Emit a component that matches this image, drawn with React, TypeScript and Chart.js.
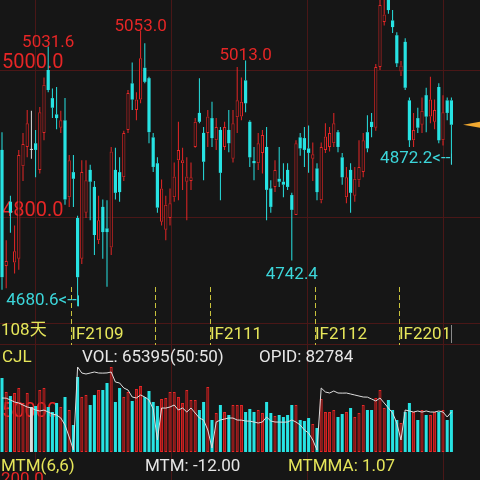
import React, { useEffect, useRef } from 'react';
import { Chart, registerables } from 'chart.js';

Chart.register(...registerables);

const FONT = 'Roboto, "Noto Sans CJK SC", sans-serif';
const BG = '#161616';
const RED = '#e62626';
const CYAN = '#27e3e3';
const CYAN_TEXT = '#3cd6da';
const YELLOW = '#e6e65a';
const ROLL_YELLOW = '#c8c23c';
const GRID = '#4a1717';
const WHITE = '#e6e6e6';
const ORANGE = '#f0a830';
const VOL_RED_FILL = '#981a1a';

// Daily OHLC of the continuous IF contract
const opens = [
  4892, 4735, 4822, 4740, 4745, 4870, 4896, 4892, 4901, 4865,
  4915, 5000, 4962, 4940, 4922, 4932, 4828, 4862, 4800, 4745,
  4807, 4865, 4842, 4770, 4815, 4786, 4760, 4865, 4862, 4855,
  4919, 4982, 4946, 4960, 5003, 4989, 4909, 4874, 4795, 4784,
  4800, 4828, 4878, 4874, 4849, 4850, 4896, 4942, 4915, 4915,
  4935, 4905, 4919, 4896, 4919, 4880, 4936, 4937, 4986, 4930,
  4877, 4874, 4888, 4896, 4840, 4842, 4853, 4849, 4865, 4831,
  4804, 4909, 4908, 4894, 4880, 4867, 4824, 4892, 4896, 4901,
  4916, 4882, 4828, 4865, 4830, 4851, 4862, 4916, 4930, 4922,
  5004, 5065, 5100, 5067, 5047, 4998, 5038, 4959, 4905, 4935,
  4926, 4966, 4937, 4930, 4977, 4905, 4959, 4959,
];
const highs = [
  4916, 4770, 4830, 4790, 4892, 4915, 4946, 4945, 4919, 4950,
  4990, 5031.6, 4975, 4977, 4945, 4962, 4885, 4885, 4803, 4878,
  4878, 4872, 4850, 4830, 4825, 4824, 4896, 4895, 4882, 4918,
  4973, 5010, 4970, 5053.0, 5036, 4991, 4915, 4882, 4852, 4830,
  4840, 4875, 4930, 4895, 4882, 4875, 4935, 4989, 4923, 4946,
  4957, 4935, 4923, 4930, 4946, 4946, 5004, 4990, 5013.0, 4932,
  4896, 4915, 4919, 4923, 4851, 4878, 4896, 4874, 4874, 4834,
  4905, 4915, 4923, 4925, 4902, 4874, 4902, 4928, 4923, 4942,
  4919, 4888, 4869, 4874, 4869, 4905, 4915, 4939, 4942, 5008,
  5100, 5100, 5110, 5081, 5051, 5012, 5043, 4963, 4942, 4949,
  4963, 4976, 4991, 4960, 4982, 4966, 4963, 4963,
];
const lows = [
  4703, 4705, 4780, 4725, 4730, 4850, 4882, 4880, 4855, 4860,
  4905, 4970, 4935, 4920, 4915, 4818, 4815, 4815, 4680.6, 4738,
  4800, 4797, 4750, 4765, 4745, 4707, 4750, 4825, 4822, 4850,
  4915, 4946, 4932, 4955, 4982, 4901, 4862, 4807, 4790, 4770,
  4790, 4822, 4824, 4838, 4797, 4838, 4895, 4928, 4851, 4896,
  4896, 4892, 4824, 4892, 4889, 4875, 4915, 4932, 4943, 4869,
  4851, 4865, 4860, 4797, 4807, 4835, 4842, 4828, 4838, 4742.4,
  4804, 4884, 4869, 4861, 4850, 4824, 4820, 4888, 4890, 4896,
  4889, 4845, 4820, 4807, 4822, 4842, 4855, 4889, 4909, 4918,
  5000, 5060, 5076, 5050, 5004, 4992, 4973, 4896, 4896, 4915,
  4915, 4916, 4928, 4920, 4901, 4898, 4932, 4872.2,
];
const closes = [
  4720, 4742, 4807, 4755, 4885, 4900, 4928, 4892, 4892, 4943,
  4980, 4973, 4949, 4935, 4932, 4825, 4878, 4853, 4720, 4862,
  4851, 4849, 4777, 4797, 4781, 4781, 4890, 4834, 4835, 4915,
  4969, 4960, 4960, 5016, 4984, 4916, 4869, 4814, 4840, 4818,
  4820, 4856, 4892, 4878, 4856, 4855, 4930, 4930, 4876, 4937,
  4908, 4923, 4861, 4923, 4901, 4928, 4959, 4957, 4955, 4882,
  4874, 4901, 4912, 4838, 4815, 4865, 4849, 4845, 4842, 4811,
  4901, 4894, 4892, 4888, 4886, 4835, 4896, 4910, 4915, 4928,
  4896, 4855, 4855, 4834, 4853, 4869, 4905, 4894, 4923, 5004,
  5088, 5075, 5081, 5058, 5009, 5006, 4976, 4905, 4919, 4922,
  4945, 4937, 4960, 4946, 4905, 4943, 4942, 4926,
];

// Daily traded volume (lots) and open interest
const volumes = [
  115200, 93400, 87200, 91900, 99600, 76300, 91900, 70100, 71600, 96500,
  99600, 70100, 62300, 76300, 70100, 85600, 65400, 42000, 116800, 85600,
  88700, 73200, 88700, 96500, 96500, 107400, 132300, 77900, 99600, 85600,
  93400, 79400, 98100, 102800, 85600, 95000, 77900, 71600, 82500, 84100,
  93400, 93400, 85600, 76300, 96500, 81000, 81000, 65400, 77900, 101200,
  49800, 60700, 73200, 62300, 57600, 73200, 73200, 73200, 62300, 67000,
  62300, 65400, 60700, 77900, 60700, 56100, 57600, 54500, 57600, 73200,
  73200, 49800, 48300, 52900, 43600, 37400, 82500, 62300, 62300, 65400,
  54500, 59200, 62300, 68500, 54500, 60700, 73200, 65400, 65400, 84100,
  96500, 68500, 81000, 65400, 49800, 45200, 62300, 76300, 62300, 49800,
  65400, 57600, 57600, 62300, 62300, 65400, 49800, 65395,
];
const openInterest = [
  97780, 97600, 95640, 93500, 92430, 90290, 88150, 87080, 84940, 83870,
  84900, 82800, 80660, 79590, 76380, 68890, 56050, 42140, 130950, 124530,
  123460, 124500, 125600, 124530, 124400, 124600, 125600, 114900, 113830, 108480,
  106340, 98850, 97780, 100990, 98850, 95640, 86000, 52840, 87080, 87000,
  88150, 90290, 84940, 87080, 82800, 87080, 81730, 76380, 74240, 63540,
  44280, 72100, 74240, 75310, 76380, 76300, 74240, 74100, 73170, 73000,
  72100, 71030, 72100, 77450, 73170, 72100, 72000, 71900, 72100, 74240,
  72100, 68890, 63540, 60330, 52840, 42140, 108480, 104200, 103130, 105270,
  103130, 103000, 103100, 102060, 100990, 99920, 98850, 98700, 96710, 94570,
  97780, 92430, 87080, 81730, 71030, 52840, 84940, 83870, 82800, 83870,
  82700, 83900, 82800, 82750, 83870, 82800, 77450, 82784,
];

// Contract roll points (between sessions) and their contract codes
const rollPoints = [16.5, 36.5, 49.5, 74.5, 94.5];
const rollLabels = ['IF2109', '', 'IF2111', 'IF2112', 'IF2201'];
const priceTicks = [4800, 5000];
const volumeTicks = [50000];
const gridColumns = [7.86, 40.24, 72.62, 105];
const highMarks = [11, 33, 58];
const lowMarks = [69];
const arrowMarks = [18, 107];
const volumeRatio = '50:50';
const mtmValue = -12.0;
const mtmMaValue = 1.07;
const mtmAxisLabel = '200.0';

const X_MIN = -0.476;
const X_MAX = 113.81;
const PRICE_MIN = 4658.1;
const PRICE_MAX = 5094.6;
const VOL_MAX = 135459;
const OI_MIN = 40000;
const OI_MAX = 133090;

const idx = closes.map((_, i) => i);
const isUp = (i: number) => closes[i] > opens[i];
const candleColor = (i: number) =>
  closes[i] > opens[i] ? RED : closes[i] < opens[i] ? CYAN : '#dcdcdc';

const zeroPad = (s: any) => {
  s.paddingTop = 0;
  s.paddingBottom = 0;
  s.paddingLeft = 0;
  s.paddingRight = 0;
};

const priceDecor = {
  id: 'priceDecor',
  beforeDatasetsDraw(chart: any) {
    const { ctx, chartArea } = chart;
    const x = chart.scales.x;
    ctx.save();
    ctx.strokeStyle = GRID;
    ctx.lineWidth = 1;
    for (const v of gridColumns) {
      const px = Math.round(x.getPixelForValue(v)) + 0.5;
      ctx.beginPath();
      ctx.moveTo(px, 0);
      ctx.lineTo(px, chart.height);
      ctx.stroke();
    }
    for (const py of [Math.round(chartArea.bottom) + 0.5, chart.height - 0.5]) {
      ctx.beginPath();
      ctx.moveTo(0, py);
      ctx.lineTo(chart.width, py);
      ctx.stroke();
    }
    ctx.restore();
  },
  afterDatasetsDraw(chart: any) {
    const { ctx, chartArea } = chart;
    const x = chart.scales.x;
    const y = chart.scales.y;
    ctx.save();

    // contract roll markers
    ctx.strokeStyle = ROLL_YELLOW;
    ctx.lineWidth = 1;
    ctx.setLineDash([5, 3]);
    for (const v of rollPoints) {
      const px = Math.round(x.getPixelForValue(v)) + 0.5;
      ctx.beginPath();
      ctx.moveTo(px, chartArea.bottom - 36);
      ctx.lineTo(px, chart.height);
      ctx.stroke();
    }
    ctx.setLineDash([]);

    ctx.font = `17px ${FONT}`;
    ctx.fillStyle = RED;
    ctx.textAlign = 'center';
    ctx.textBaseline = 'alphabetic';
    for (const i of highMarks) {
      ctx.fillText(highs[i].toFixed(1), x.getPixelForValue(i), y.getPixelForValue(highs[i]));
    }
    ctx.fillStyle = CYAN_TEXT;
    for (const i of lowMarks) {
      ctx.fillText(lows[i].toFixed(1), x.getPixelForValue(i), y.getPixelForValue(lows[i]) + 18);
    }

    // lowest-point pointers
    ctx.textAlign = 'right';
    ctx.textBaseline = 'middle';
    ctx.strokeStyle = CYAN_TEXT;
    for (const i of arrowMarks) {
      const px = x.getPixelForValue(i);
      const py = y.getPixelForValue(lows[i]) - 6;
      ctx.fillText(`${lows[i].toFixed(1)}<--`, px - 1, py);
      const lx = Math.round(px) + 0.5;
      ctx.beginPath();
      ctx.moveTo(lx, py - 5);
      ctx.lineTo(lx, py + 6);
      ctx.stroke();
    }

    // last price pointer
    const last = closes.length - 1;
    const cy = y.getPixelForValue(closes[last]);
    ctx.fillStyle = ORANGE;
    ctx.beginPath();
    ctx.moveTo(chart.width - 17, cy);
    ctx.lineTo(chart.width, cy - 3);
    ctx.lineTo(chart.width, cy + 3);
    ctx.closePath();
    ctx.fill();

    // end-of-series tick in the label strip
    const ex = Math.round(x.getPixelForValue(last)) + 0.5;
    ctx.strokeStyle = '#8a8a8a';
    ctx.beginPath();
    ctx.moveTo(ex, chartArea.bottom + 2);
    ctx.lineTo(ex, chart.height - 2);
    ctx.stroke();

    // session count
    ctx.fillStyle = YELLOW;
    ctx.textAlign = 'left';
    ctx.fillText(`${closes.length}天`, 1, chartArea.bottom + 8);
    ctx.restore();
  },
};

const volumeDecor = {
  id: 'volumeDecor',
  beforeDatasetsDraw(chart: any) {
    const { ctx } = chart;
    const x = chart.scales.x;
    ctx.save();
    ctx.strokeStyle = GRID;
    ctx.lineWidth = 1;
    for (const v of gridColumns) {
      const px = Math.round(x.getPixelForValue(v)) + 0.5;
      ctx.beginPath();
      ctx.moveTo(px, 0);
      ctx.lineTo(px, chart.height);
      ctx.stroke();
    }
    ctx.restore();
  },
  afterDraw(chart: any) {
    const { ctx } = chart;
    const last = volumes.length - 1;
    ctx.save();
    ctx.font = `17px ${FONT}`;
    ctx.textAlign = 'left';
    ctx.textBaseline = 'middle';
    ctx.fillStyle = YELLOW;
    ctx.fillText('CJL', 2, 13);
    ctx.fillStyle = WHITE;
    ctx.fillText(`VOL: ${volumes[last]}(${volumeRatio})`, 82, 13);
    ctx.fillText(`OPID: ${openInterest[last]}`, 259, 13);
    ctx.fillStyle = YELLOW;
    ctx.fillText('MTM(6,6)', 1, 122);
    ctx.fillStyle = WHITE;
    ctx.fillText(`MTM: ${mtmValue.toFixed(2)}`, 145, 122);
    ctx.fillStyle = YELLOW;
    ctx.fillText(`MTMMA: ${mtmMaValue.toFixed(2)}`, 288, 122);
    ctx.fillStyle = RED;
    ctx.textBaseline = 'alphabetic';
    ctx.fillText(mtmAxisLabel, 1, 139);
    ctx.restore();
  },
};

export default function App() {
  const priceRef = useRef<HTMLCanvasElement>(null);
  const volRef = useRef<HTMLCanvasElement>(null);

  useEffect(() => {
    Chart.defaults.font.family = FONT;

    const price = new Chart(priceRef.current as HTMLCanvasElement, {
      type: 'bar',
      data: {
        datasets: [
          {
            data: idx.map((i) => ({ x: i, y: [opens[i], closes[i]] })) as any,
            backgroundColor: idx.map((i) => (isUp(i) ? BG : candleColor(i))),
            borderColor: idx.map(candleColor),
            borderWidth: idx.map((i) => (isUp(i) ? 1 : 0)),
            borderSkipped: false,
            barPercentage: 0.76,
            categoryPercentage: 1,
            grouped: false,
            minBarLength: 1,
          },
          {
            data: idx.map((i) => ({ x: i, y: [Math.max(opens[i], closes[i]), highs[i]] })) as any,
            backgroundColor: idx.map(candleColor),
            barThickness: 1,
            grouped: false,
            inflateAmount: 0,
          },
          {
            data: idx.map((i) => ({ x: i, y: [lows[i], Math.min(opens[i], closes[i])] })) as any,
            backgroundColor: idx.map(candleColor),
            barThickness: 1,
            grouped: false,
            inflateAmount: 0,
          },
        ],
      },
      options: {
        responsive: false,
        animation: false,
        devicePixelRatio: 1,
        events: [],
        layout: { padding: 0 },
        plugins: { legend: { display: false }, tooltip: { enabled: false } },
        scales: {
          x: {
            type: 'linear',
            min: X_MIN,
            max: X_MAX,
            offset: false,
            position: 'bottom',
            afterBuildTicks: (s: any) => {
              s.ticks = rollPoints.map((v) => ({ value: v }));
            },
            afterFit: (s: any) => {
              s.height = 22;
              zeroPad(s);
            },
            grid: { display: false, drawTicks: false, offset: false },
            border: { display: false },
            ticks: {
              autoSkip: false,
              maxRotation: 0,
              minRotation: 0,
              align: 'start',
              padding: 2,
              color: YELLOW,
              font: { family: FONT, size: 17 },
              callback: (_v: any, i: number) => rollLabels[i] ?? '',
            },
          },
          y: {
            type: 'linear',
            min: PRICE_MIN,
            max: PRICE_MAX,
            position: 'left',
            afterBuildTicks: (s: any) => {
              s.ticks = priceTicks.map((v) => ({ value: v }));
            },
            afterFit: (s: any) => {
              s.width = 0;
              zeroPad(s);
            },
            grid: { color: GRID, drawTicks: false, lineWidth: 1 },
            border: { display: false },
            ticks: {
              mirror: true,
              padding: 2,
              labelOffset: -7,
              color: RED,
              font: { family: FONT, size: 20 },
              callback: (v: any) => Number(v).toFixed(1),
            },
          },
        },
      } as any,
      plugins: [priceDecor],
    });

    const vol = new Chart(volRef.current as HTMLCanvasElement, {
      type: 'bar',
      data: {
        datasets: [
          {
            type: 'line',
            data: idx.map((i) => ({ x: i, y: openInterest[i] })) as any,
            yAxisID: 'yOi',
            borderColor: '#dedede',
            borderWidth: 1,
            pointRadius: 0,
            tension: 0,
          } as any,
          {
            data: idx.map((i) => ({ x: i, y: volumes[i] })) as any,
            yAxisID: 'yVol',
            backgroundColor: idx.map((i) => (isUp(i) ? VOL_RED_FILL : candleColor(i))),
            borderColor: idx.map(candleColor),
            borderWidth: idx.map((i) => (isUp(i) ? 1 : 0)),
            borderSkipped: false,
            barPercentage: 0.72,
            categoryPercentage: 1,
            grouped: false,
          },
        ],
      },
      options: {
        responsive: false,
        animation: false,
        devicePixelRatio: 1,
        events: [],
        layout: { padding: { top: 20, bottom: 28, left: 0, right: 0 } },
        plugins: { legend: { display: false }, tooltip: { enabled: false } },
        scales: {
          x: { type: 'linear', display: false, min: X_MIN, max: X_MAX, offset: false, grid: { offset: false } },
          yVol: {
            type: 'linear',
            position: 'left',
            min: 0,
            max: VOL_MAX,
            afterBuildTicks: (s: any) => {
              s.ticks = volumeTicks.map((v) => ({ value: v }));
            },
            afterFit: (s: any) => {
              s.width = 0;
              zeroPad(s);
            },
            grid: { display: false, drawTicks: false },
            border: { display: false },
            ticks: {
              mirror: true,
              padding: 2,
              labelOffset: -8,
              color: RED,
              font: { family: FONT, size: 20 },
              callback: (v: any) => String(v),
            },
          },
          yOi: { type: 'linear', display: false, min: OI_MIN, max: OI_MAX },
        },
      } as any,
      plugins: [volumeDecor],
    });

    return () => {
      price.destroy();
      vol.destroy();
    };
  }, []);

  return (
    <div
      style={{
        position: 'fixed',
        left: 0,
        top: 0,
        width: 480,
        height: 480,
        background: BG,
        overflow: 'hidden',
      }}
    >
      <canvas
        ref={priceRef}
        width={480}
        height={345}
        style={{ position: 'absolute', left: 0, top: 0, width: 480, height: 345 }}
      />
      <canvas
        ref={volRef}
        width={480}
        height={135}
        style={{ position: 'absolute', left: 0, top: 345, width: 480, height: 135 }}
      />
    </div>
  );
}
